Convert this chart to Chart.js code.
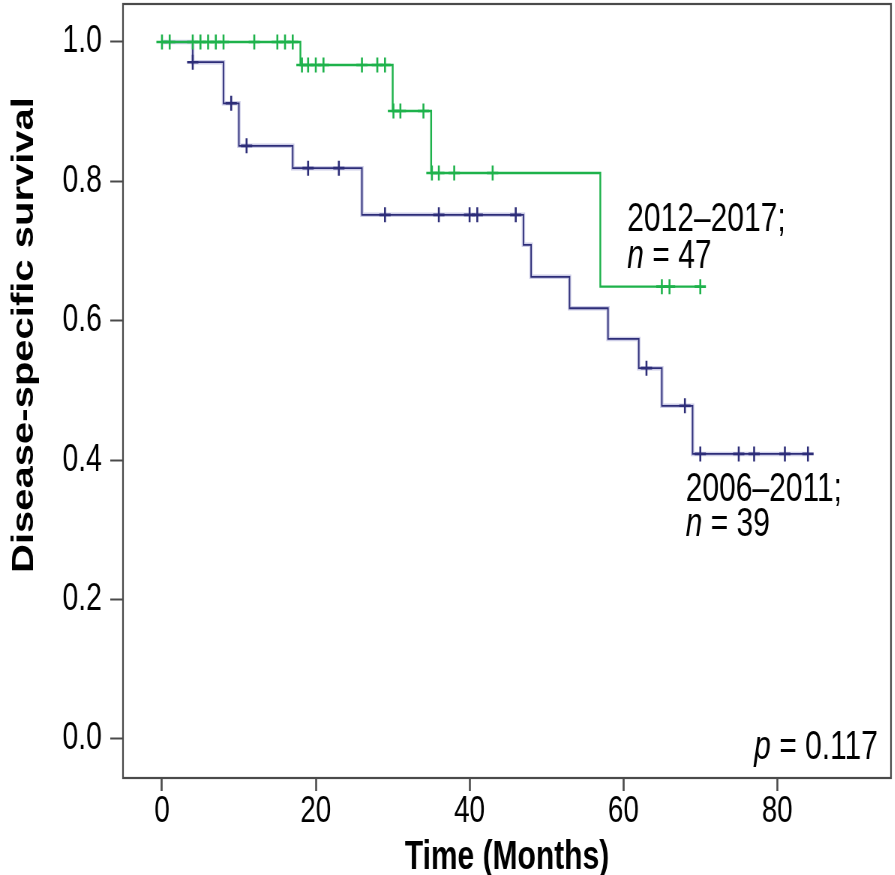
<!DOCTYPE html>
<html>
<head>
<meta charset="utf-8">
<script src="https://cdn.jsdelivr.net/npm/chart.js@4/dist/chart.umd.min.js"></script>
<style>
  html, body { margin: 0; padding: 0; background: #fff; overflow: hidden; }
  #wrap { width: 1193px; height: 875px; transform: scaleX(0.75); transform-origin: 0 0; }
</style>
</head>
<body>
<div id="wrap"><canvas id="kmChart" width="1193" height="875"></canvas></div>
<script>
// tick labels
const xTicks = [0, 20, 40, 60, 80];
const yTicks = [0, 0.2, 0.4, 0.6, 0.8, 1.0];

// 2012-2017 group: event times (months) and survival after each step
const recentTimes = [0, 18, 30, 35, 57, 70];
const recentSurvival = [1.0, 0.967, 0.901, 0.812, 0.649, 0.649];
const recentCensored = [0, 1, 4, 5, 6, 7, 8, 12, 15, 16, 17, 18.2, 19, 20, 21, 26, 28, 29,
    30.1, 31, 34, 35.1, 36, 38, 43, 65, 66, 70];

// 2006-2011 group
const earlyTimes = [0, 4, 8, 10, 17, 26, 47, 48, 53, 58, 62, 65, 69, 84];
const earlySurvival = [1.0, 0.971, 0.912, 0.851, 0.819, 0.752, 0.709, 0.663, 0.618, 0.574,
    0.532, 0.478, 0.409, 0.409];
const earlyCensored = [4, 9, 11, 19, 23, 29, 36, 40, 41, 46, 63, 68, 70, 75, 77, 81, 84];

const green = "#1eb24b";
const navy = "#2d2d78";
const font = "'Liberation Sans', Arial, sans-serif";

function stepPoints(times, surv) {
    return times.map((t, i) => ({ x: t, y: surv[i] }));
}

function levelAt(times, surv, t) {
    let s = surv[0];
    for (let i = 0; i < times.length; i++) {
        if (times[i] <= t) s = surv[i];
    }
    return s;
}

function censorPoints(cens, times, surv) {
    return cens.map(t => ({ x: t, y: levelAt(times, surv, t) }));
}

// text drawn with italic runs (n, p)
function drawRuns(ctx, runs, x, y, align) {
    let total = 0;
    runs.forEach(r => {
        ctx.font = (r.italic ? "italic " : "") + "40px " + font;
        r.w = ctx.measureText(r.text).width;
        total += r.w;
    });
    let cx = align === "right" ? x - total : x;
    runs.forEach(r => {
        ctx.font = (r.italic ? "italic " : "") + "40px " + font;
        ctx.fillText(r.text, cx, y);
        cx += r.w;
    });
}

const notes = [
    { runs: [{ text: "2012\u20132017;" }], x: 60.5, y: 0.729, align: "left" },
    { runs: [{ text: "n", italic: true }, { text: " = 47" }], x: 60.5, y: 0.676, align: "left" },
    { runs: [{ text: "2006\u20132011;" }], x: 68.1, y: 0.3415, align: "left" },
    { runs: [{ text: "n", italic: true }, { text: " = 39" }], x: 68.1, y: 0.291, align: "left" },
    { runs: [{ text: "p", italic: true }, { text: " = 0.117" }], x: 93.1, y: -0.0287, align: "right" }
];

const framePlugin = {
    id: "frame",
    afterDraw(chart) {
        const { ctx, chartArea: a, scales } = chart;
        ctx.save();
        ctx.strokeStyle = "#4a4a4a";
        ctx.lineWidth = 2.2;
        ctx.strokeRect(a.left, a.top, a.right - a.left, a.bottom - a.top);
        ctx.fillStyle = "#000";
        ctx.textBaseline = "alphabetic";
        ctx.textAlign = "left";
        notes.forEach(n => {
            drawRuns(ctx, n.runs, scales.x.getPixelForValue(n.x), scales.y.getPixelForValue(n.y), n.align);
        });
        // y axis title sits above the axis middle in the original
        ctx.translate(33, 335);
        ctx.rotate(-Math.PI / 2);
        ctx.font = "bold 40px " + font;
        ctx.textAlign = "center";
        ctx.textBaseline = "middle";
        ctx.fillText("Disease-specific survival", 0, 0);
        ctx.restore();
    }
};

const ctx = document.getElementById("kmChart").getContext("2d");

new Chart(ctx, {
    type: "line",
    data: {
        datasets: [
            {
                label: "2012-2017 censored",
                data: censorPoints(recentCensored, recentTimes, recentSurvival),
                showLine: false,
                pointStyle: "cross",
                pointRadius: 7.5,
                pointBorderWidth: 2.6,
                pointBorderColor: green
            },
            {
                label: "2012-2017",
                data: stepPoints(recentTimes, recentSurvival),
                stepped: true,
                borderColor: green,
                borderWidth: 2.4,
                pointRadius: 0,
                fill: false
            },
            {
                label: "2006-2011 censored",
                data: censorPoints(earlyCensored, earlyTimes, earlySurvival),
                showLine: false,
                pointStyle: "cross",
                pointRadius: 7.5,
                pointBorderWidth: 2.6,
                pointBorderColor: navy
            },
            {
                label: "2006-2011",
                data: stepPoints(earlyTimes, earlySurvival),
                stepped: true,
                borderColor: navy,
                borderWidth: 1.8,
                pointRadius: 0,
                fill: false
            },
            {
                label: "2006-2011 halo",
                data: stepPoints(earlyTimes, earlySurvival),
                stepped: true,
                borderColor: "rgba(130,130,195,0.4)",
                borderWidth: 4.5,
                pointRadius: 0,
                fill: false
            }
        ]
    },
    options: {
        responsive: false,
        animation: false,
        layout: { autoPadding: false, padding: { top: 4, right: 5, left: 0, bottom: 0 } },
        plugins: {
            legend: { display: false },
            tooltip: { enabled: false }
        },
        scales: {
            x: {
                type: "linear",
                min: -5.07,
                max: 94.8,
                afterBuildTicks: s => { s.ticks = xTicks.map(v => ({ value: v })); },
                afterFit: s => {
                    s.height = 97;
                    s.paddingLeft = 0;
                    s.paddingRight = 0;
                },
                grid: { drawOnChartArea: false, tickLength: 13, tickColor: "#4a4a4a", tickWidth: 2.6 },
                border: { display: false },
                ticks: {
                    color: "#000",
                    padding: 2,
                    maxRotation: 0,
                    font: { family: font, size: 37, lineHeight: 1 }
                },
                title: {
                    display: true,
                    text: "Time (Months)",
                    color: "#000",
                    padding: { top: 0, bottom: 1 },
                    font: { family: font, size: 40, weight: "bold", lineHeight: 0.8 }
                }
            },
            y: {
                type: "linear",
                min: -0.056,
                max: 1.0545,
                afterBuildTicks: s => { s.ticks = yTicks.map(v => ({ value: v })); },
                afterFit: s => {
                    s.width = 164;
                    s.paddingTop = 0;
                    s.paddingBottom = 0;
                },
                grid: { drawOnChartArea: false, tickLength: 17, tickColor: "#4a4a4a", tickWidth: 2 },
                border: { display: false },
                ticks: {
                    color: "#000",
                    padding: 11,
                    font: { family: font, size: 38 },
                    callback: v => v.toFixed(1)
                }
            }
        }
    },
    plugins: [framePlugin]
});
</script>
</body>
</html>
